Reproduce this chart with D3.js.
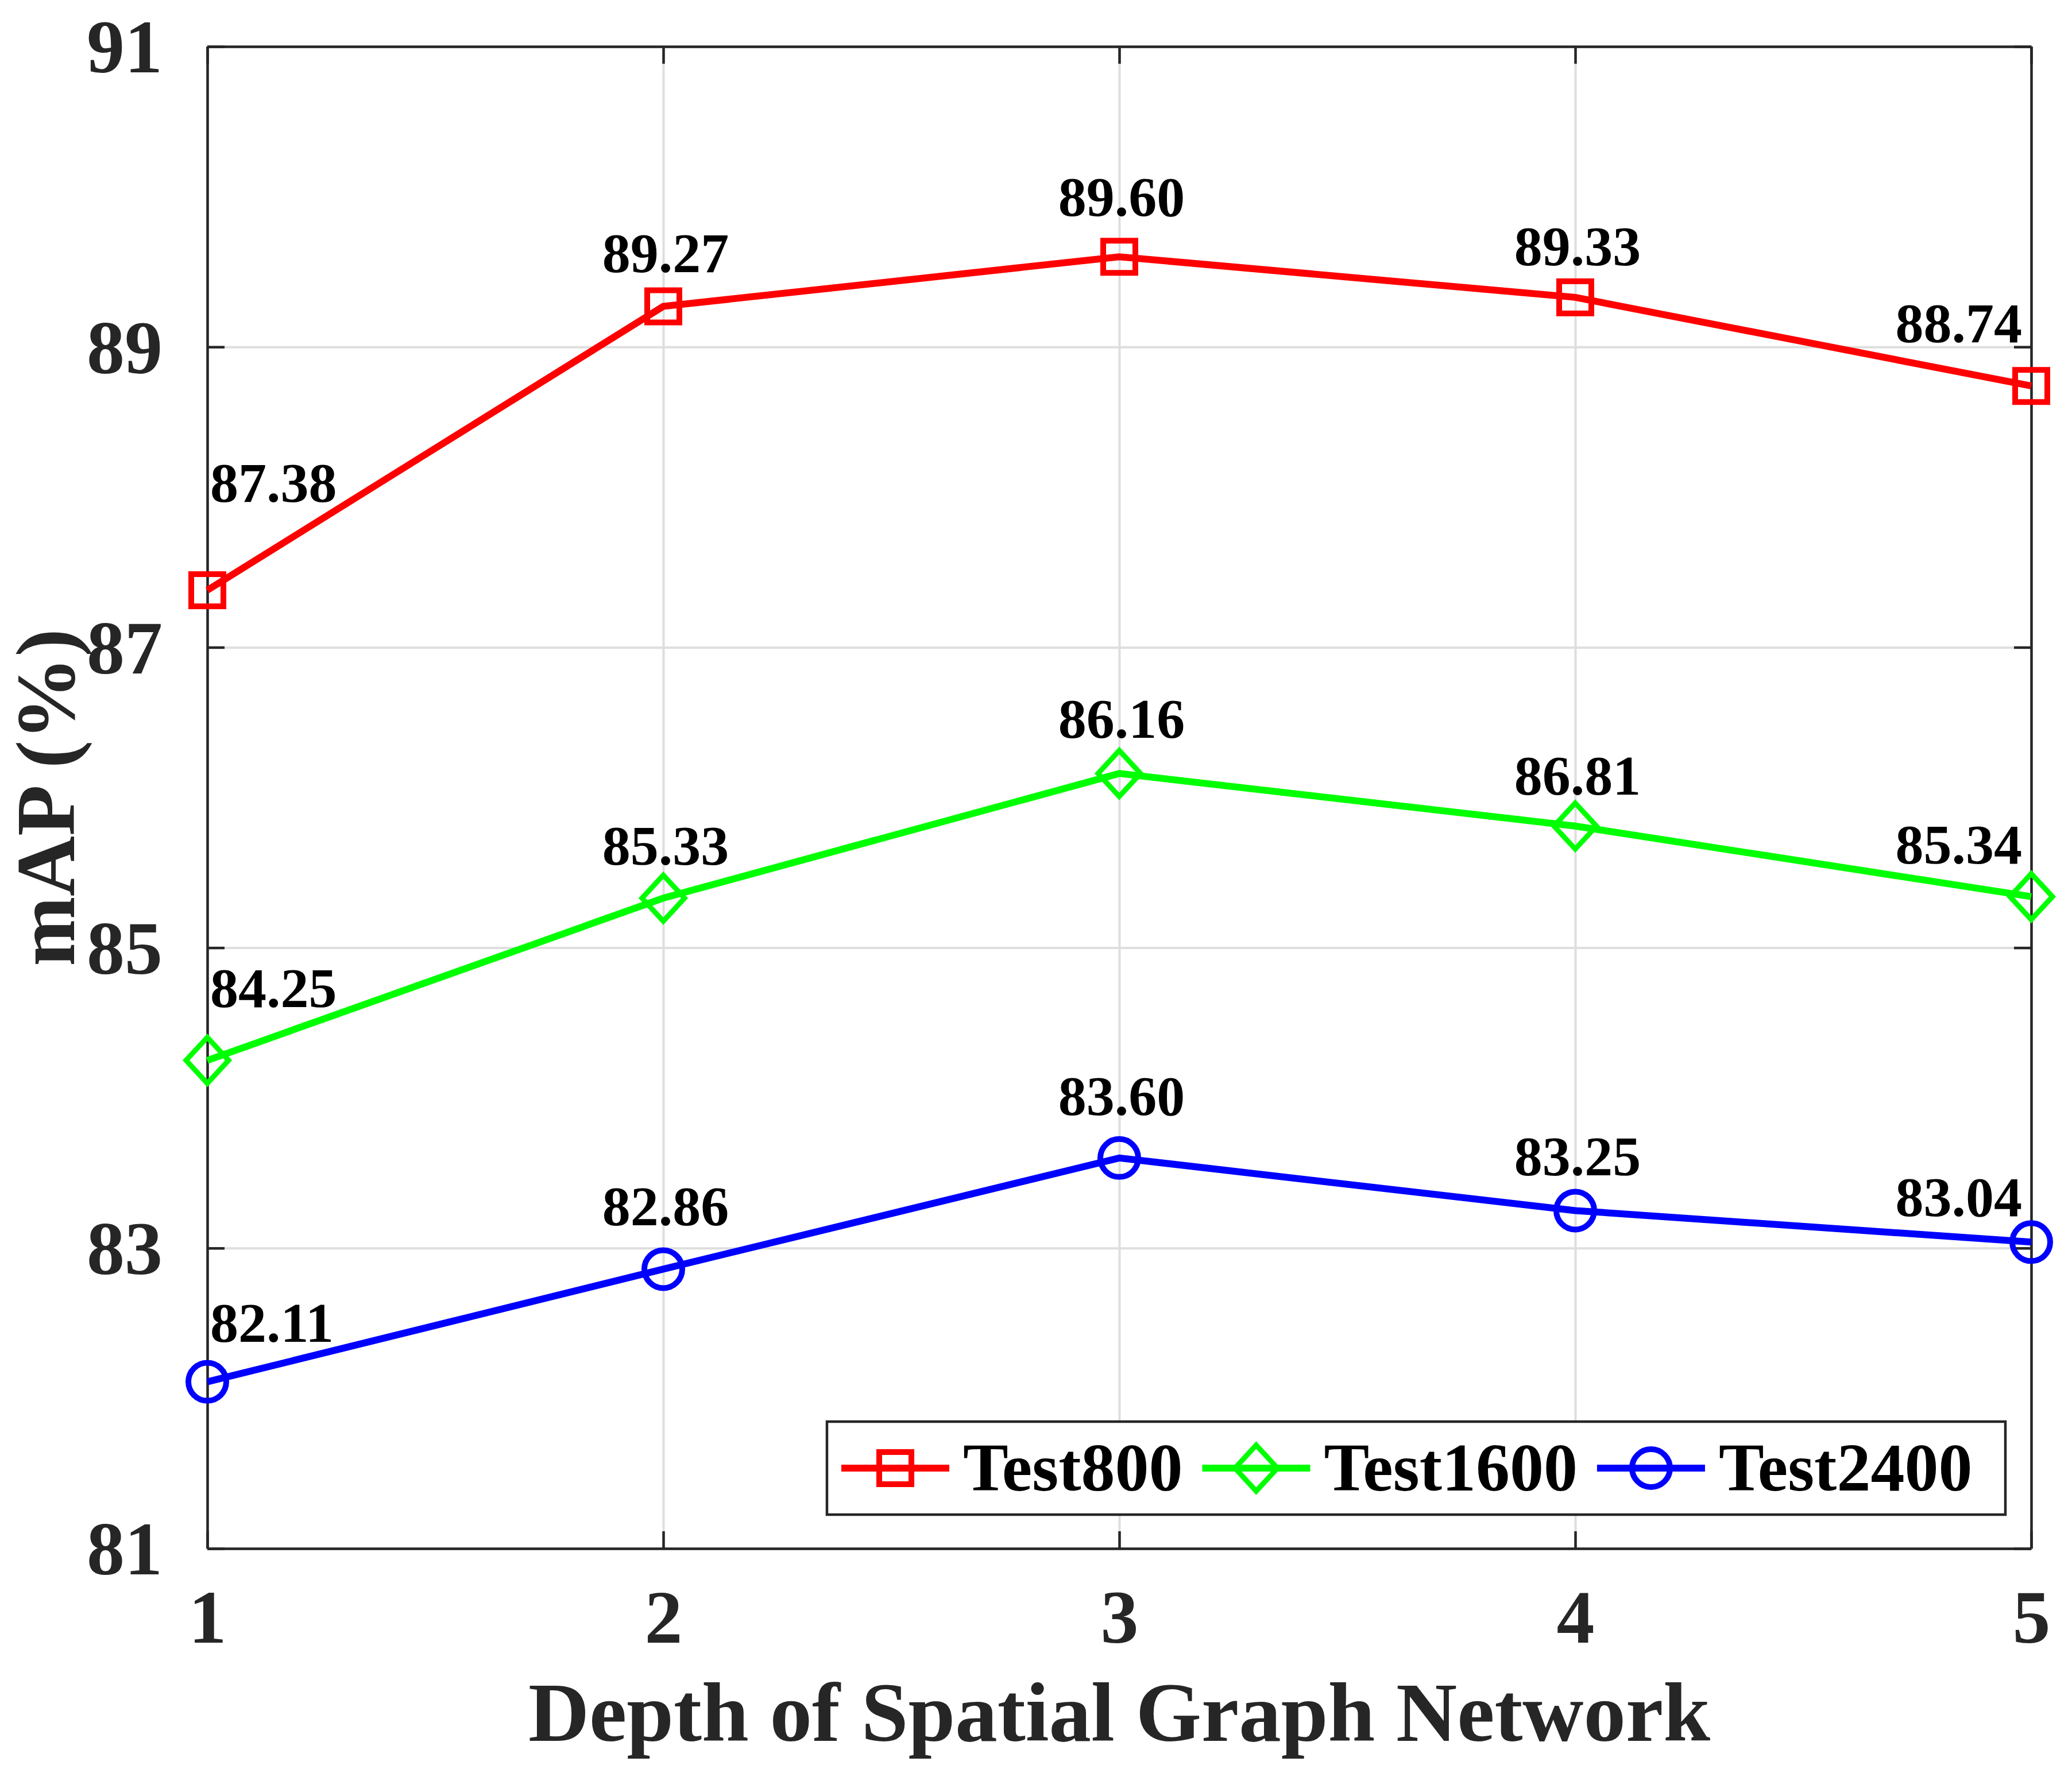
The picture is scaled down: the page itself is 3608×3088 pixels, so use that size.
<!DOCTYPE html>
<html>
<head>
<meta charset="utf-8">
<script src="https://cdnjs.cloudflare.com/ajax/libs/d3/7.8.5/d3.min.js"></script>
<style>
  body { margin: 0; background: #fff; }
  text { font-family: "Liberation Serif", "Times New Roman", serif; font-weight: bold; }
</style>
</head>
<body>
<div id="chart"></div>
<script>
const width = 3608;
const height = 3088;

// data
const depths = [1, 2, 3, 4, 5];
const seriesNames = ['Test800', 'Test1600', 'Test2400'];
const test800 = [87.38, 89.27, 89.60, 89.33, 88.74];
const test1600 = [84.25, 85.33, 86.16, 85.81, 85.34];
const test2400 = [82.11, 82.86, 83.60, 83.25, 83.04];
// the printed labels (the 4th Test1600 label reads 86.81 in the figure)
const labels800 = ['87.38', '89.27', '89.60', '89.33', '88.74'];
const labels1600 = ['84.25', '85.33', '86.16', '86.81', '85.34'];
const labels2400 = ['82.11', '82.86', '83.60', '83.25', '83.04'];
const yTicks = [81, 83, 85, 87, 89, 91];

// how far each label sits above its point (px), placed by hand in the original
const labelLift = [
    [154, 60, 71, 56, 76],
    [93, 58, 62, 55, 58],
    [70, 76, 75, 61, 45]
];

const colors = ['#ff0000', '#00ff00', '#0000ff'];
const markers = ['square', 'diamond', 'circle'];
const axisColor = '#262626';

const margin = { top: 81, right: 71, bottom: 391, left: 361 };

const usableArea = {
    top: margin.top,
    right: width - margin.right,
    bottom: height - margin.bottom,
    left: margin.left,
    width: width - margin.left - margin.right,
    height: height - margin.top - margin.bottom,
};

const svg = d3.select('#chart')
    .append('svg')
    .attr('width', width)
    .attr('height', height)
    .attr('viewBox', `0 0 ${width} ${height}`);

const xScale = d3.scaleLinear()
    .domain([1, 5])
    .range([usableArea.left, usableArea.right]);

const yScale = d3.scaleLinear()
    .domain([81, 91])
    .range([usableArea.bottom, usableArea.top]);

// grid
const xGrid = d3.axisBottom(xScale).tickValues(depths).tickSize(-usableArea.height).tickFormat('');
const yGrid = d3.axisLeft(yScale).tickValues(yTicks).tickSize(-usableArea.width).tickFormat('');

svg.append('g')
    .attr('class', 'grid')
    .attr('transform', `translate(0, ${usableArea.bottom})`)
    .call(xGrid);
svg.append('g')
    .attr('class', 'grid')
    .attr('transform', `translate(${usableArea.left}, 0)`)
    .call(yGrid);
svg.selectAll('.grid .domain').remove();
svg.selectAll('.grid line')
    .style('stroke', '#dedede')
    .style('stroke-width', 4);

// axes with inward ticks on all four sides
const tickLen = 30;
const xAxis = d3.axisBottom(xScale).tickValues(depths).tickSizeInner(-tickLen).tickSizeOuter(0).tickPadding(tickLen + 30).tickFormat(d3.format('d'));
const yAxis = d3.axisLeft(yScale).tickValues(yTicks).tickSizeInner(-tickLen).tickSizeOuter(0).tickPadding(tickLen + 48).tickFormat(d3.format('d'));
const xTop = d3.axisTop(xScale).tickValues(depths).tickSizeInner(-tickLen).tickSizeOuter(0).tickFormat('');
const yRight = d3.axisRight(yScale).tickValues(yTicks).tickSizeInner(-tickLen).tickSizeOuter(0).tickFormat('');

const gx = svg.append('g')
    .attr('transform', `translate(0, ${usableArea.bottom})`)
    .call(xAxis);
const gy = svg.append('g')
    .attr('transform', `translate(${usableArea.left}, 0)`)
    .call(yAxis);
const gt = svg.append('g')
    .attr('transform', `translate(0, ${usableArea.top})`)
    .call(xTop);
const gr = svg.append('g')
    .attr('transform', `translate(${usableArea.right}, 0)`)
    .call(yRight);

[gx, gy, gt, gr].forEach(g => {
    g.select('.domain').style('stroke', axisColor).style('stroke-width', 4.5);
    g.selectAll('.tick line').style('stroke', axisColor).style('stroke-width', 4.5);
    g.selectAll('.tick text')
        .style('fill', axisColor)
        .style('font-size', '132px')
        .style('font-family', '"Liberation Serif", serif')
        .style('font-weight', 'bold');
});
gx.selectAll('.tick text').attr('dy', null).attr('y', 2861 - usableArea.bottom);
gy.selectAll('.tick text').attr('dy', '0.34em');

// axis titles
svg.append('text')
    .attr('text-anchor', 'middle')
    .attr('x', usableArea.left + usableArea.width / 2)
    .attr('y', 3032)
    .style('fill', axisColor)
    .style('font-size', '147px')
    .text('Depth of Spatial Graph Network');

svg.append('text')
    .attr('text-anchor', 'middle')
    .attr('transform', `translate(129, ${usableArea.top + usableArea.height / 2}) rotate(-90)`)
    .style('fill', axisColor)
    .style('font-size', '146px')
    .text('mAP (%)');

// series
const seriesValues = [test800, test1600, test2400];
const seriesLabels = [labels800, labels1600, labels2400];

const line = d3.line()
    .x((d, i) => xScale(depths[i]))
    .y(d => yScale(d));

function drawMarker(g, type, cx, cy, color) {
    if (type === 'square') {
        g.append('rect')
            .attr('x', cx - 28).attr('y', cy - 28)
            .attr('width', 56).attr('height', 56)
            .style('fill', 'none').style('stroke', color).style('stroke-width', 10);
    } else if (type === 'diamond') {
        g.append('path')
            .attr('d', `M${cx},${cy - 40}L${cx + 37},${cy}L${cx},${cy + 40}L${cx - 37},${cy}Z`)
            .style('fill', 'none').style('stroke', color).style('stroke-width', 9);
    } else {
        g.append('circle')
            .attr('cx', cx).attr('cy', cy).attr('r', 33)
            .style('fill', 'none').style('stroke', color).style('stroke-width', 10);
    }
}

seriesValues.forEach((values, s) => {
    svg.append('path')
        .datum(values)
        .attr('d', line)
        .style('fill', 'none')
        .style('stroke', colors[s])
        .style('stroke-width', 12);

    const mg = svg.append('g');
    values.forEach((v, i) => drawMarker(mg, markers[s], xScale(depths[i]), yScale(v), colors[s]));

    values.forEach((v, i) => {
        const last = i === values.length - 1;
        const anchor = i === 0 ? 'start' : (last ? 'end' : 'middle');
        const dx = i === 0 ? 5 : (last ? -16 : 4);
        svg.append('text')
            .attr('x', xScale(depths[i]) + dx)
            .attr('y', yScale(v) - labelLift[s][i])
            .attr('text-anchor', anchor)
            .style('fill', '#000')
            .style('font-size', '98px')
            .text(seriesLabels[s][i]);
    });
});

// legend
const legend = svg.append('g');
legend.append('rect')
    .attr('x', 1440).attr('y', 2476)
    .attr('width', 3492 - 1440).attr('height', 2638 - 2476)
    .style('fill', '#fff')
    .style('stroke', axisColor)
    .style('stroke-width', 4.5);

const legendY = 2557;
let lx = 1465;
seriesNames.forEach((name, s) => {
    legend.append('line')
        .attr('x1', lx).attr('x2', lx + 188)
        .attr('y1', legendY).attr('y2', legendY)
        .style('stroke', colors[s]).style('stroke-width', 12);
    drawMarker(legend, markers[s], lx + 94, legendY, colors[s]);
    const t = legend.append('text')
        .attr('x', lx + 212)
        .attr('y', legendY + 39)
        .style('fill', '#000')
        .style('font-size', '118px')
        .text(name);
    lx = lx + 212 + t.node().getComputedTextLength() + 34;
});
</script>
</body>
</html>
